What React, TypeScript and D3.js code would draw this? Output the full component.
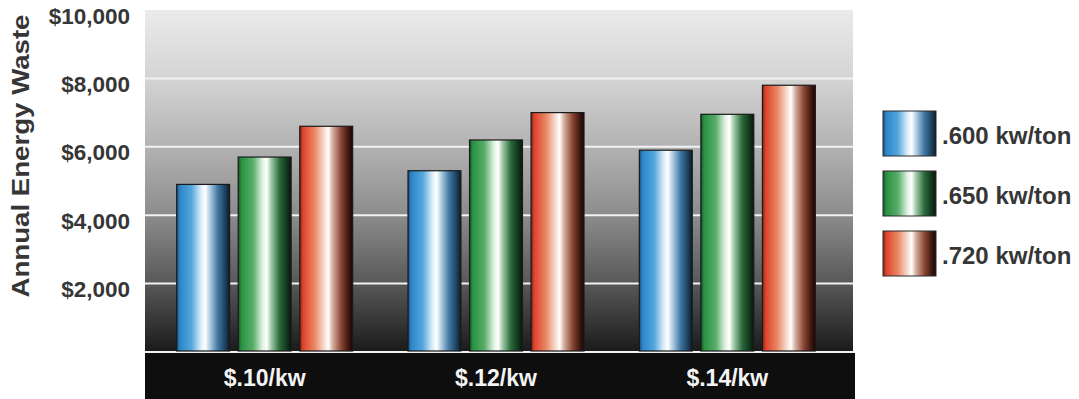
import React from "react";
import * as d3 from "d3";

const categories = ["$.10/kw", "$.12/kw", "$.14/kw"];
const seriesNames = [".600 kw/ton", ".650 kw/ton", ".720 kw/ton"];
const s600 = [4900, 5300, 5900];
const s650 = [5700, 6200, 6950];
const s720 = [6600, 7000, 7800];
const yTicks = [2000, 4000, 6000, 8000, 10000];
const gridValues = [0, 2000, 4000, 6000, 8000];

const seriesValues = [s600, s650, s720];

const gradients = [
  {
    id: "gBlue",
    stops: [
      [0, "#1d4f78"], [0.06, "#2b86c8"], [0.28, "#55a6dc"], [0.46, "#dcedf8"],
      [0.54, "#ffffff"], [0.62, "#b6d2e6"], [0.78, "#3f76a2"], [0.93, "#1a3b57"], [1, "#0c1a26"],
    ],
  },
  {
    id: "gGreen",
    stops: [
      [0, "#16502a"], [0.06, "#289242"], [0.28, "#58ad68"], [0.46, "#e0f2e3"],
      [0.54, "#ffffff"], [0.62, "#a4ccab"], [0.78, "#2b6a3a"], [0.93, "#10311b"], [1, "#08160d"],
    ],
  },
  {
    id: "gRed",
    stops: [
      [0, "#7a2416"], [0.06, "#de432b"], [0.28, "#ea8666"], [0.46, "#f8dccf"],
      [0.54, "#ffffff"], [0.62, "#d6b0a0"], [0.78, "#8a4834"], [0.93, "#3a140f"], [1, "#1a0705"],
    ],
  },
];

export default function App() {
  const W = 1079;
  const H = 399;
  const plotLeft = 145;
  const plotRight = 853;
  const plotTop = 10;
  const plotBottom = 352;

  const y = d3.scaleLinear().domain([0, 10000]).range([plotBottom, plotTop]);
  const x0 = d3.scaleBand<string>().domain(categories).range([149, 843]).paddingInner(0);
  const groupWidth = 176;
  const x1 = d3
    .scaleBand<string>()
    .domain(seriesNames)
    .range([0, groupWidth])
    .paddingInner(0.14);
  const groupOffset = (x0.bandwidth() - groupWidth) / 2;

  const font = "'Liberation Sans', Arial, Helvetica, sans-serif";
  const textColor = "#363636";

  return (
    <div style={{ position: "absolute", left: 0, top: 0 }}>
      <svg width={W} height={H} style={{ display: "block", background: "#ffffff" }}>
        <defs>
          <linearGradient id="bg" x1="0" y1="0" x2="0" y2="1">
            <stop offset="0" stopColor="#ebebeb" />
            <stop offset="0.2" stopColor="#d4d4d4" />
            <stop offset="0.4" stopColor="#b2b2b2" />
            <stop offset="0.6" stopColor="#8c8c8c" />
            <stop offset="0.8" stopColor="#585858" />
            <stop offset="1" stopColor="#1a1a1a" />
          </linearGradient>
          {gradients.map((g) => (
            <linearGradient key={g.id} id={g.id} x1="0" y1="0" x2="1" y2="0">
              {g.stops.map(([o, c], i) => (
                <stop key={i} offset={o as number} stopColor={c as string} />
              ))}
            </linearGradient>
          ))}
        </defs>

        <rect
          x={plotLeft}
          y={plotTop}
          width={plotRight - plotLeft}
          height={plotBottom - plotTop}
          fill="url(#bg)"
        />

        {gridValues.map((v) => (
          <line
            key={v}
            x1={plotLeft}
            x2={plotRight}
            y1={y(v)}
            y2={y(v)}
            stroke="#f2f2f2"
            strokeWidth={2}
          />
        ))}

        {categories.map((cat, ci) => (
          <g key={cat} transform={`translate(${(x0(cat) as number) + groupOffset},0)`}>
            {seriesNames.map((s, si) => {
              const v = seriesValues[si][ci];
              return (
                <rect
                  key={s}
                  x={x1(s)}
                  y={y(v)}
                  width={x1.bandwidth()}
                  height={y(0) - y(v) - 1}
                  fill={`url(#${gradients[si].id})`}
                  stroke="#1a1a1a"
                  strokeWidth={1.2}
                />
              );
            })}
          </g>
        ))}

        <rect x={plotLeft} y={plotBottom + 1} width={plotRight - plotLeft + 2} height={H - plotBottom} fill="#0e0e0e" />
        {categories.map((cat) => (
          <text
            key={cat}
            x={(x0(cat) as number) + x0.bandwidth() / 2}
            y={378}
            textAnchor="middle"
            dominantBaseline="central"
            fill="#f4f4f4"
            fontFamily={font}
            fontWeight="bold"
            fontSize={23}
          >
            {cat}
          </text>
        ))}

        {yTicks.map((v) => (
          <text
            key={v}
            x={130}
            y={y(v) + 6}
            textAnchor="end"
            dominantBaseline="central"
            fill={textColor}
            fontFamily={font}
            fontWeight="bold"
            fontSize={22.5}
          >
            {d3.format("$,")(v)}
          </text>
        ))}

        <text
          transform={`translate(21,156) rotate(-90)`}
          textAnchor="middle"
          dominantBaseline="central"
          fill={textColor}
          fontFamily={font}
          fontWeight="bold"
          fontSize={23}
          textLength={283}
          lengthAdjust="spacingAndGlyphs"
        >
          Annual Energy Waste
        </text>

        {seriesNames.map((s, i) => (
          <g key={s} transform={`translate(883,${111 + i * 60})`}>
            <rect
              width={53}
              height={45}
              fill={`url(#${gradients[i].id})`}
              stroke="#2a2a2a"
              strokeWidth={1}
            />
            <text
              x={59}
              y={24}
              dominantBaseline="central"
              fill={textColor}
              fontFamily={font}
              fontWeight="bold"
              fontSize={24}
            >
              {s}
            </text>
          </g>
        ))}
      </svg>
    </div>
  );
}
